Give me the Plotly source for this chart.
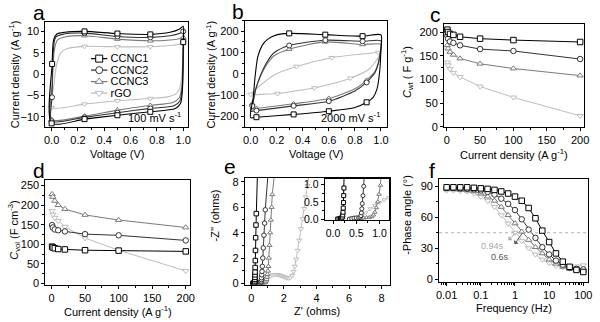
import math
import plotly.graph_objects as go

# ---------------------------------------------------------------- data
SERIES = ["CCNC1", "CCNC2", "CCNC3", "rGO"]
COLORS = {"CCNC1": "#000000", "CCNC2": "#333333", "CCNC3": "#7a7a7a", "rGO": "#bdbdbd"}
SYMBOLS = {"CCNC1": "square", "CCNC2": "circle", "CCNC3": "triangle-up", "rGO": "triangle-down"}

# (a) CV loops at 100 mV s-1 : voltage (V) and current density (A g-1)
cv100_volt = {
    "CCNC1": [0.0, 0.004, 0.015, 0.04, 0.1, 0.25, 0.5, 0.75, 0.9, 0.97, 1.0, 1.0, 0.995, 0.98, 0.94, 0.75, 0.5, 0.25, 0.0],
    "CCNC2": [0.0, 0.003, 0.012, 0.03, 0.08, 0.25, 0.5, 0.75, 0.9, 0.97, 1.0, 1.0, 0.993, 0.975, 0.93, 0.75, 0.5, 0.25, 0.0],
    "CCNC3": [0.0, 0.006, 0.02, 0.045, 0.1, 0.25, 0.5, 0.75, 0.9, 0.97, 1.0, 1.0, 0.99, 0.97, 0.92, 0.75, 0.5, 0.25, 0.0],
    "rGO":   [0.0, 0.015, 0.04, 0.07, 0.12, 0.25, 0.5, 0.75, 0.9, 0.97, 1.0, 0.995, 0.98, 0.95, 0.88, 0.75, 0.5, 0.25, 0.0],
}
cv100_curr = {
    "CCNC1": [-11.5, 2.4, 8.0, 9.4, 9.8, 10.0, 9.5, 9.3, 9.8, 10.5, 11.2, 7.5, -3.0, -6.8, -8.0, -8.8, -9.6, -10.5, -11.5],
    "CCNC2": [-11.0, -5.4, 5.0, 8.6, 9.3, 9.6, 8.8, 8.6, 9.0, 9.5, 10.0, 6.0, -3.0, -6.2, -7.4, -8.0, -9.0, -10.1, -11.0],
    "CCNC3": [-10.6, -2.0, 5.5, 8.0, 8.7, 9.0, 8.2, 7.8, 8.0, 8.3, 8.6, 5.0, -2.5, -5.5, -6.6, -7.3, -8.4, -9.8, -10.6],
    "rGO":   [-7.8, -3.0, 2.5, 5.0, 6.0, 6.5, 6.4, 6.4, 6.7, 7.0, 7.3, 2.0, -2.5, -4.5, -5.3, -5.7, -6.2, -7.0, -7.8],
}
cv100_marks = {
    "CCNC1": [1, 5, 6, 7, 11, 15, 16, 17, 18],
    "CCNC2": [1, 5, 6, 7, 10, 15, 16, 17, 18],
    "CCNC3": [5, 6, 7, 10, 15, 16, 17, 18],
    "rGO":   [5, 6, 7, 10, 15, 16, 17, 18],
}

# (b) CV loops at 2000 mV s-1
cv2000_volt = {
    "CCNC1": [0.0, 0.02, 0.035, 0.055, 0.09, 0.13, 0.2, 0.296, 0.573, 0.859, 1.0, 1.0, 0.99, 0.97, 0.94, 0.89, 0.8, 0.6, 0.33, 0.045, 0.0],
    "CCNC2": [0.0, 0.013, 0.04, 0.075, 0.12, 0.18, 0.296, 0.573, 0.859, 1.0, 0.995, 0.98, 0.955, 0.92, 0.89, 0.8, 0.6, 0.33, 0.045, 0.0],
    "CCNC3": [0.0, 0.013, 0.04, 0.075, 0.12, 0.18, 0.296, 0.573, 0.859, 1.0, 0.995, 0.98, 0.955, 0.92, 0.89, 0.8, 0.6, 0.33, 0.045, 0.0],
    "rGO":   [0.0, 0.09, 0.18, 0.352, 0.623, 0.8, 0.98, 1.0, 0.95, 0.9, 0.766, 0.6, 0.49, 0.3, 0.206, 0.1, 0.0],
}
cv2000_curr = {
    "CCNC1": [-205, -110, -10, 80, 135, 162, 183, 190, 184, 177, 183, 120, 10, -70, -110, -133, -158, -175, -190, -203, -205],
    "CCNC2": [-175, -150, -70, -8, 50, 99, 133, 158, 153, 155, 100, 50, 7, -20, -40, -80, -128, -150, -172, -175],
    "CCNC3": [-165, -140, -70, -12, 40, 85, 116, 150, 138, 138, 100, 52, 12, -12, -30, -70, -115, -140, -162, -165],
    "rGO":   [-96, -46, -5, 35, 76, 90, 100, 102, 50, 18, -20, -50, -66, -84, -92, -95, -96],
}
cv2000_marks = {
    "CCNC1": [7, 8, 9, 15, 17, 18, 19],
    "CCNC2": [1, 6, 7, 8, 14, 16, 17, 18],
    "CCNC3": [1, 6, 7, 8, 14, 16, 17, 18],
    "rGO":   [0, 3, 4, 6, 10, 12, 14],
}

# (c, d) rate capability
current_density = [1, 2, 5, 10, 20, 50, 100, 200]
c_wt = {
    "CCNC1": [205, 200, 196, 194, 190, 186, 183, 179],
    "CCNC2": [192, 186, 180, 177, 172, 164, 160, 143],
    "CCNC3": [172, 165, 158, 152, 144, 133, 123, 108],
    "rGO":   [136, 130, 122, 114, 105, 85, 62, 23],
}
c_vol = {
    "CCNC1": [94, 92, 90, 88, 87, 85, 84, 82],
    "CCNC2": [149, 143, 138, 136, 133, 126, 123, 110],
    "CCNC3": [228, 221, 211, 200, 190, 175, 162, 143],
    "rGO":   [185, 176, 168, 160, 145, 116, 85, 32],
}

# (e) Nyquist plots: Z' and -Z'' (ohms)
z_real = {
    "CCNC1": [0.1, 0.13, 0.16, 0.18, 0.2, 0.21, 0.215, 0.22, 0.225, 0.23, 0.235, 0.24, 0.25, 0.26, 0.27, 0.29, 0.31, 0.4],
    "CCNC2": [0.35, 0.4, 0.45, 0.5, 0.55, 0.58, 0.6, 0.61, 0.62, 0.63, 0.645, 0.66, 0.68, 0.71, 0.74, 0.78, 0.82, 0.86, 1.05],
    "CCNC3": [0.55, 0.6, 0.66, 0.72, 0.78, 0.83, 0.87, 0.9, 0.93, 0.96, 0.99, 1.02, 1.05, 1.08, 1.12, 1.16, 1.2, 1.25, 1.29, 1.5],
    "rGO":   [0.5, 0.55, 0.6, 0.7, 0.8, 0.9, 1.0, 1.1, 1.2, 1.3, 1.4, 1.5, 1.6, 1.7, 1.8, 1.9, 2.0, 2.1, 2.2, 2.3,
              2.4, 2.5, 2.6, 2.68, 2.76, 2.85, 2.95, 3.05, 3.15, 3.25, 3.35, 3.45, 3.55],
}
z_imag = {
    "CCNC1": [0.0, 0.01, 0.02, 0.03, 0.06, 0.12, 0.2, 0.32, 0.48, 0.68, 0.9, 1.25, 1.8, 2.6, 3.6, 4.6, 5.5, 9.5],
    "CCNC2": [0.0, 0.02, 0.03, 0.035, 0.04, 0.06, 0.1, 0.18, 0.3, 0.45, 0.68, 0.95, 1.35, 2.0, 2.8, 3.8, 4.75, 5.8, 9.0],
    "CCNC3": [0.0, 0.02, 0.035, 0.045, 0.05, 0.07, 0.12, 0.2, 0.33, 0.5, 0.72, 0.98, 1.35, 2.0, 3.0, 4.0, 5.0, 6.0, 7.0, 9.5],
    "rGO":   [0.0, 0.03, 0.08, 0.18, 0.3, 0.4, 0.48, 0.56, 0.62, 0.66, 0.69, 0.7, 0.69, 0.66, 0.62, 0.57, 0.52, 0.47, 0.43, 0.42,
              0.46, 0.62, 0.95, 1.35, 1.9, 2.6, 3.4, 4.3, 5.1, 5.9, 6.8, 7.7, 8.6],
}

# (f) Bode phase plots
frequency = [0.01, 0.0158, 0.0251, 0.0398, 0.0631, 0.1, 0.158, 0.251, 0.398, 0.631, 1.0,
             1.58, 2.51, 3.98, 6.31, 10.0, 15.8, 25.1, 39.8, 63.1, 100.0]
phase = {
    "CCNC1": [89, 89, 89, 89, 88.5, 88, 87.5, 86.5, 85, 83, 80, 76, 69, 59, 47, 36, 25, 17, 12, 9, 7],
    "CCNC2": [88.5, 88.5, 88, 87.5, 87, 86, 84.5, 82, 78, 73, 67, 58, 48, 40, 31, 24, 18, 14, 11, 10, 9.5],
    "CCNC3": [87, 87, 86.5, 86, 85, 83, 80, 76, 70, 62, 54, 46, 38, 31, 25, 19, 15, 12, 10, 9, 8.5],
    "rGO":   [86, 86, 85.5, 85, 83, 80, 76, 70, 62, 54, 45, 37, 30, 24, 19, 15.5, 13, 12, 12, 12.5, 13.5],
}
relaxation_time = {"rGO": 0.94, "CCNC3": 0.6}   # s, read at -phase = 45 deg
phase_ref = 45

# axis titles per panel (x, y)
CUR = "Current density (A g<sup>-1</sup>)"
TITLES = {
    "a": ("Voltage (V)", CUR),
    "b": ("Voltage (V)", CUR),
    "c": (CUR, "<i>C</i><sub>wt</sub> ( F g<sup>-1</sup>)"),
    "d": (CUR, "<i>C</i><sub>vol</sub> (F cm<sup>-3</sup>)"),
    "e": ("Z' (ohms)", "-Z'' (ohms)"),
    "f": ("Frequency (Hz)", "-Phase angle (°)"),
}

# ---------------------------------------------------------------- layout helpers
W, H = 600, 322
FONT = "Liberation Sans, Arial, sans-serif"

# plot frames in pixels: left, right, top, bottom
FRAMES = {
    "a": (43, 188, 20, 128),
    "b": (245, 389, 19, 128),
    "c": (447, 589, 22, 128),
    "d": (43, 190, 182, 289),
    "e": (245, 392, 180, 289),
    "f": (442, 593, 181, 286),
}
# axis-title placement in pixels: x-title centre y, y-title centre x, y-title centre y
TITLE_POS = {
    "a": (155, 12, 74),
    "b": (155, 211, 74),
    "c": (155, 410, 72),
    "d": (316, 11, 233),
    "e": (316, 215, 218),
    "f": (313, 410, 218),
}


def dom(l, r, t, b):
    return dict(domain=[l / W, r / W]), dict(domain=[1 - b / H, 1 - t / H])


def ax(rng, dtick, minor, **kw):
    d = dict(range=rng, dtick=dtick, showline=True, linecolor="black", linewidth=1, mirror=True,
             ticks="outside", ticklen=3, tickwidth=1, tickcolor="black", showgrid=False, zeroline=False,
             tickfont=dict(size=11, color="black"),
             minor=dict(ticks="outside", ticklen=2, tickcolor="black", dtick=minor, showgrid=False))
    d.update(kw)
    return d


fig = go.Figure()


def marker(name, size=5):
    return dict(symbol=SYMBOLS[name], size=size, color="white", line=dict(color=COLORS[name], width=1))


def add_loop(vx, vy, marks, xa, ya):
    for name in reversed(SERIES):
        fig.add_trace(go.Scatter(x=vx[name], y=vy[name], mode="lines", xaxis=xa, yaxis=ya,
                                 line=dict(color=COLORS[name], width=1.1, shape="spline", smoothing=0.7),
                                 showlegend=False, hoverinfo="skip"))
        idx = marks[name]
        fig.add_trace(go.Scatter(x=[vx[name][i] for i in idx], y=[vy[name][i] for i in idx],
                                 mode="markers", xaxis=xa, yaxis=ya, marker=marker(name),
                                 showlegend=False, hoverinfo="skip"))


def add_series(xs, ys, xa, ya, size=5.5, width=1):
    for name in reversed(SERIES):
        fig.add_trace(go.Scatter(x=xs if not isinstance(xs, dict) else xs[name], y=ys[name],
                                 mode="lines+markers", xaxis=xa, yaxis=ya,
                                 line=dict(color=COLORS[name], width=width), marker=marker(name, size),
                                 showlegend=False, hoverinfo="skip"))


add_loop(cv100_volt, cv100_curr, cv100_marks, "x", "y")
add_loop(cv2000_volt, cv2000_curr, cv2000_marks, "x2", "y2")
add_series(current_density, c_wt, "x3", "y3")
add_series(current_density, c_vol, "x4", "y4")
add_series(z_real, z_imag, "x5", "y5", size=4.5)
add_series(z_real, z_imag, "x7", "y7", size=4)
add_series(frequency, phase, "x6", "y6", size=5.5)

# legend swatches for panel a, on their own small axes pair
for name in SERIES:
    fig.add_trace(go.Scatter(x=[0], y=[name], mode="markers", xaxis="x8", yaxis="y8",
                             marker=dict(symbol=SYMBOLS[name], size=7, color="white",
                                         line=dict(color=COLORS[name], width=1)),
                             error_x=dict(type="constant", value=1, width=0, thickness=1.2, color=COLORS[name]),
                             showlegend=False, hoverinfo="skip"))

xa, ya = dom(*FRAMES["a"])
xb, yb = dom(*FRAMES["b"])
xc, yc = dom(*FRAMES["c"])
xd, yd = dom(*FRAMES["d"])
xe, ye = dom(*FRAMES["e"])
xf, yf = dom(*FRAMES["f"])
xi, yi = dom(326, 391, 181, 223)
xl, yl = dom(89, 106, 52, 99)

fig.update_layout(
    width=W, height=H, margin=dict(l=0, r=0, t=0, b=0),
    paper_bgcolor="white", plot_bgcolor="white", showlegend=False,
    font=dict(family=FONT, size=11, color="black"),
    xaxis=dict(**xa, anchor="y", **ax([-0.047, 1.04], 0.2, 0.1, tickformat=".1f")),
    yaxis=dict(**ya, anchor="x", **ax([-12.4, 12.3], 5, 2.5)),
    xaxis2=dict(**xb, anchor="y2", **ax([-0.045, 1.045], 0.2, 0.1, tickformat=".1f")),
    yaxis2=dict(**yb, anchor="x2", **ax([-250, 250], 100, 50)),
    xaxis3=dict(**xc, anchor="y3", **ax([-4, 206], 50, 25)),
    yaxis3=dict(**yc, anchor="x3", **ax([-1, 218], 50, 25)),
    xaxis4=dict(**xd, anchor="y4", **ax([-9, 207], 50, 25)),
    yaxis4=dict(**yd, anchor="x4", **ax([-3, 264], 50, 25)),
    xaxis5=dict(**xe, anchor="y5", **ax([-0.4, 8.5], 2, 1)),
    yaxis5=dict(**ye, anchor="x5", **ax([-0.1, 8.3], 2, 1)),
    xaxis6=dict(**xf, anchor="y6", type="log",
                **ax([-2.22, 2.14], None, "D1",
                     tickvals=[0.01, 0.1, 1, 10, 100], ticktext=["0.01", "0.1", "1", "10", "100"])),
    yaxis6=dict(**yf, anchor="x6", **ax([-2.5, 97], 30, 15)),
    xaxis7=dict(**xi, anchor="y7", **ax([-0.18, 1.2], 0.5, 0.25, tickformat=".1f",
                                         tickfont=dict(size=10.5, color="black"), ticklen=3)),
    yaxis7=dict(**yi, anchor="x7", **ax([-0.03, 1.16], 0.5, 0.25, tickformat=".1f",
                                         tickfont=dict(size=10.5, color="black"), ticklen=3)),
    xaxis8=dict(**xl, anchor="y8", range=[-1, 1], visible=False, fixedrange=True),
    yaxis8=dict(**yl, anchor="x8", type="category", categoryorder="array", categoryarray=SERIES,
                tickmode="array", tickvals=SERIES, ticktext=SERIES,
                range=[3.5, -0.5], side="right", showline=False, ticks="", showgrid=False, zeroline=False,
                tickfont=dict(size=11, color="black"), ticklabelstandoff=2),
)

# dashed 45 deg reference in (f)
fig.add_shape(type="line", xref="x6 domain", yref="y6", x0=0, x1=1, y0=phase_ref, y1=phase_ref,
              line=dict(color="#b0b0b0", width=1, dash="dot"))

annotations = []

# axis titles
for key, (xt, yt) in TITLES.items():
    l, r, t, b = FRAMES[key]
    ty_x, ty_px, ty_py = TITLE_POS[key]
    annotations.append(dict(text=xt, x=(l + r) / 2 / W, y=1 - ty_x / H, xref="paper", yref="paper",
                            showarrow=False, xanchor="center", yanchor="middle", font=dict(size=11)))
    annotations.append(dict(text=yt, x=ty_px / W, y=1 - ty_py / H, xref="paper", yref="paper",
                            showarrow=False, xanchor="center", yanchor="middle", textangle=-90,
                            font=dict(size=11)))

letter_pos = {"a": (36, 11), "b": (238, 10), "c": (438, 13), "d": (36, 172), "e": (230, 168), "f": (435, 172)}
for letter, (px, py) in letter_pos.items():
    annotations.append(dict(text=letter, x=px / W, y=1 - py / H, xref="paper", yref="paper",
                            showarrow=False, font=dict(size=21, color="black", family=FONT),
                            xanchor="center", yanchor="middle"))
annotations.append(dict(text="100 mV s<sup>-1</sup>", x=182 / W, y=1 - 118 / H, xref="paper", yref="paper",
                        showarrow=False, xanchor="right", yanchor="middle", font=dict(size=11)))
annotations.append(dict(text="2000 mV s<sup>-1</sup>", x=384 / W, y=1 - 118 / H, xref="paper", yref="paper",
                        showarrow=False, xanchor="right", yanchor="middle", font=dict(size=11)))

# relaxation-time labels and arrows in (f)
tau_style = {"rGO": ("#a8a8a8", (496, 249), (-9, 9)), "CCNC3": ("#555555", (504, 261), (-9, 13))}
for name, tau in relaxation_time.items():
    col, (tx, ty), (dx, dy) = tau_style[name]
    annotations.append(dict(text="", x=math.log10(1 / tau), y=phase_ref, xref="x6", yref="y6",
                            ax=dx, ay=dy, showarrow=True, arrowhead=2, arrowsize=0.8, arrowwidth=1,
                            arrowcolor=col, arrowside="start"))
    annotations.append(dict(text=f"{tau}s", x=tx / W, y=1 - ty / H, xref="paper", yref="paper",
                            showarrow=False, xanchor="center", yanchor="middle", font=dict(size=9, color=col)))

fig.update_layout(annotations=annotations)
fig.write_html("out.html")
